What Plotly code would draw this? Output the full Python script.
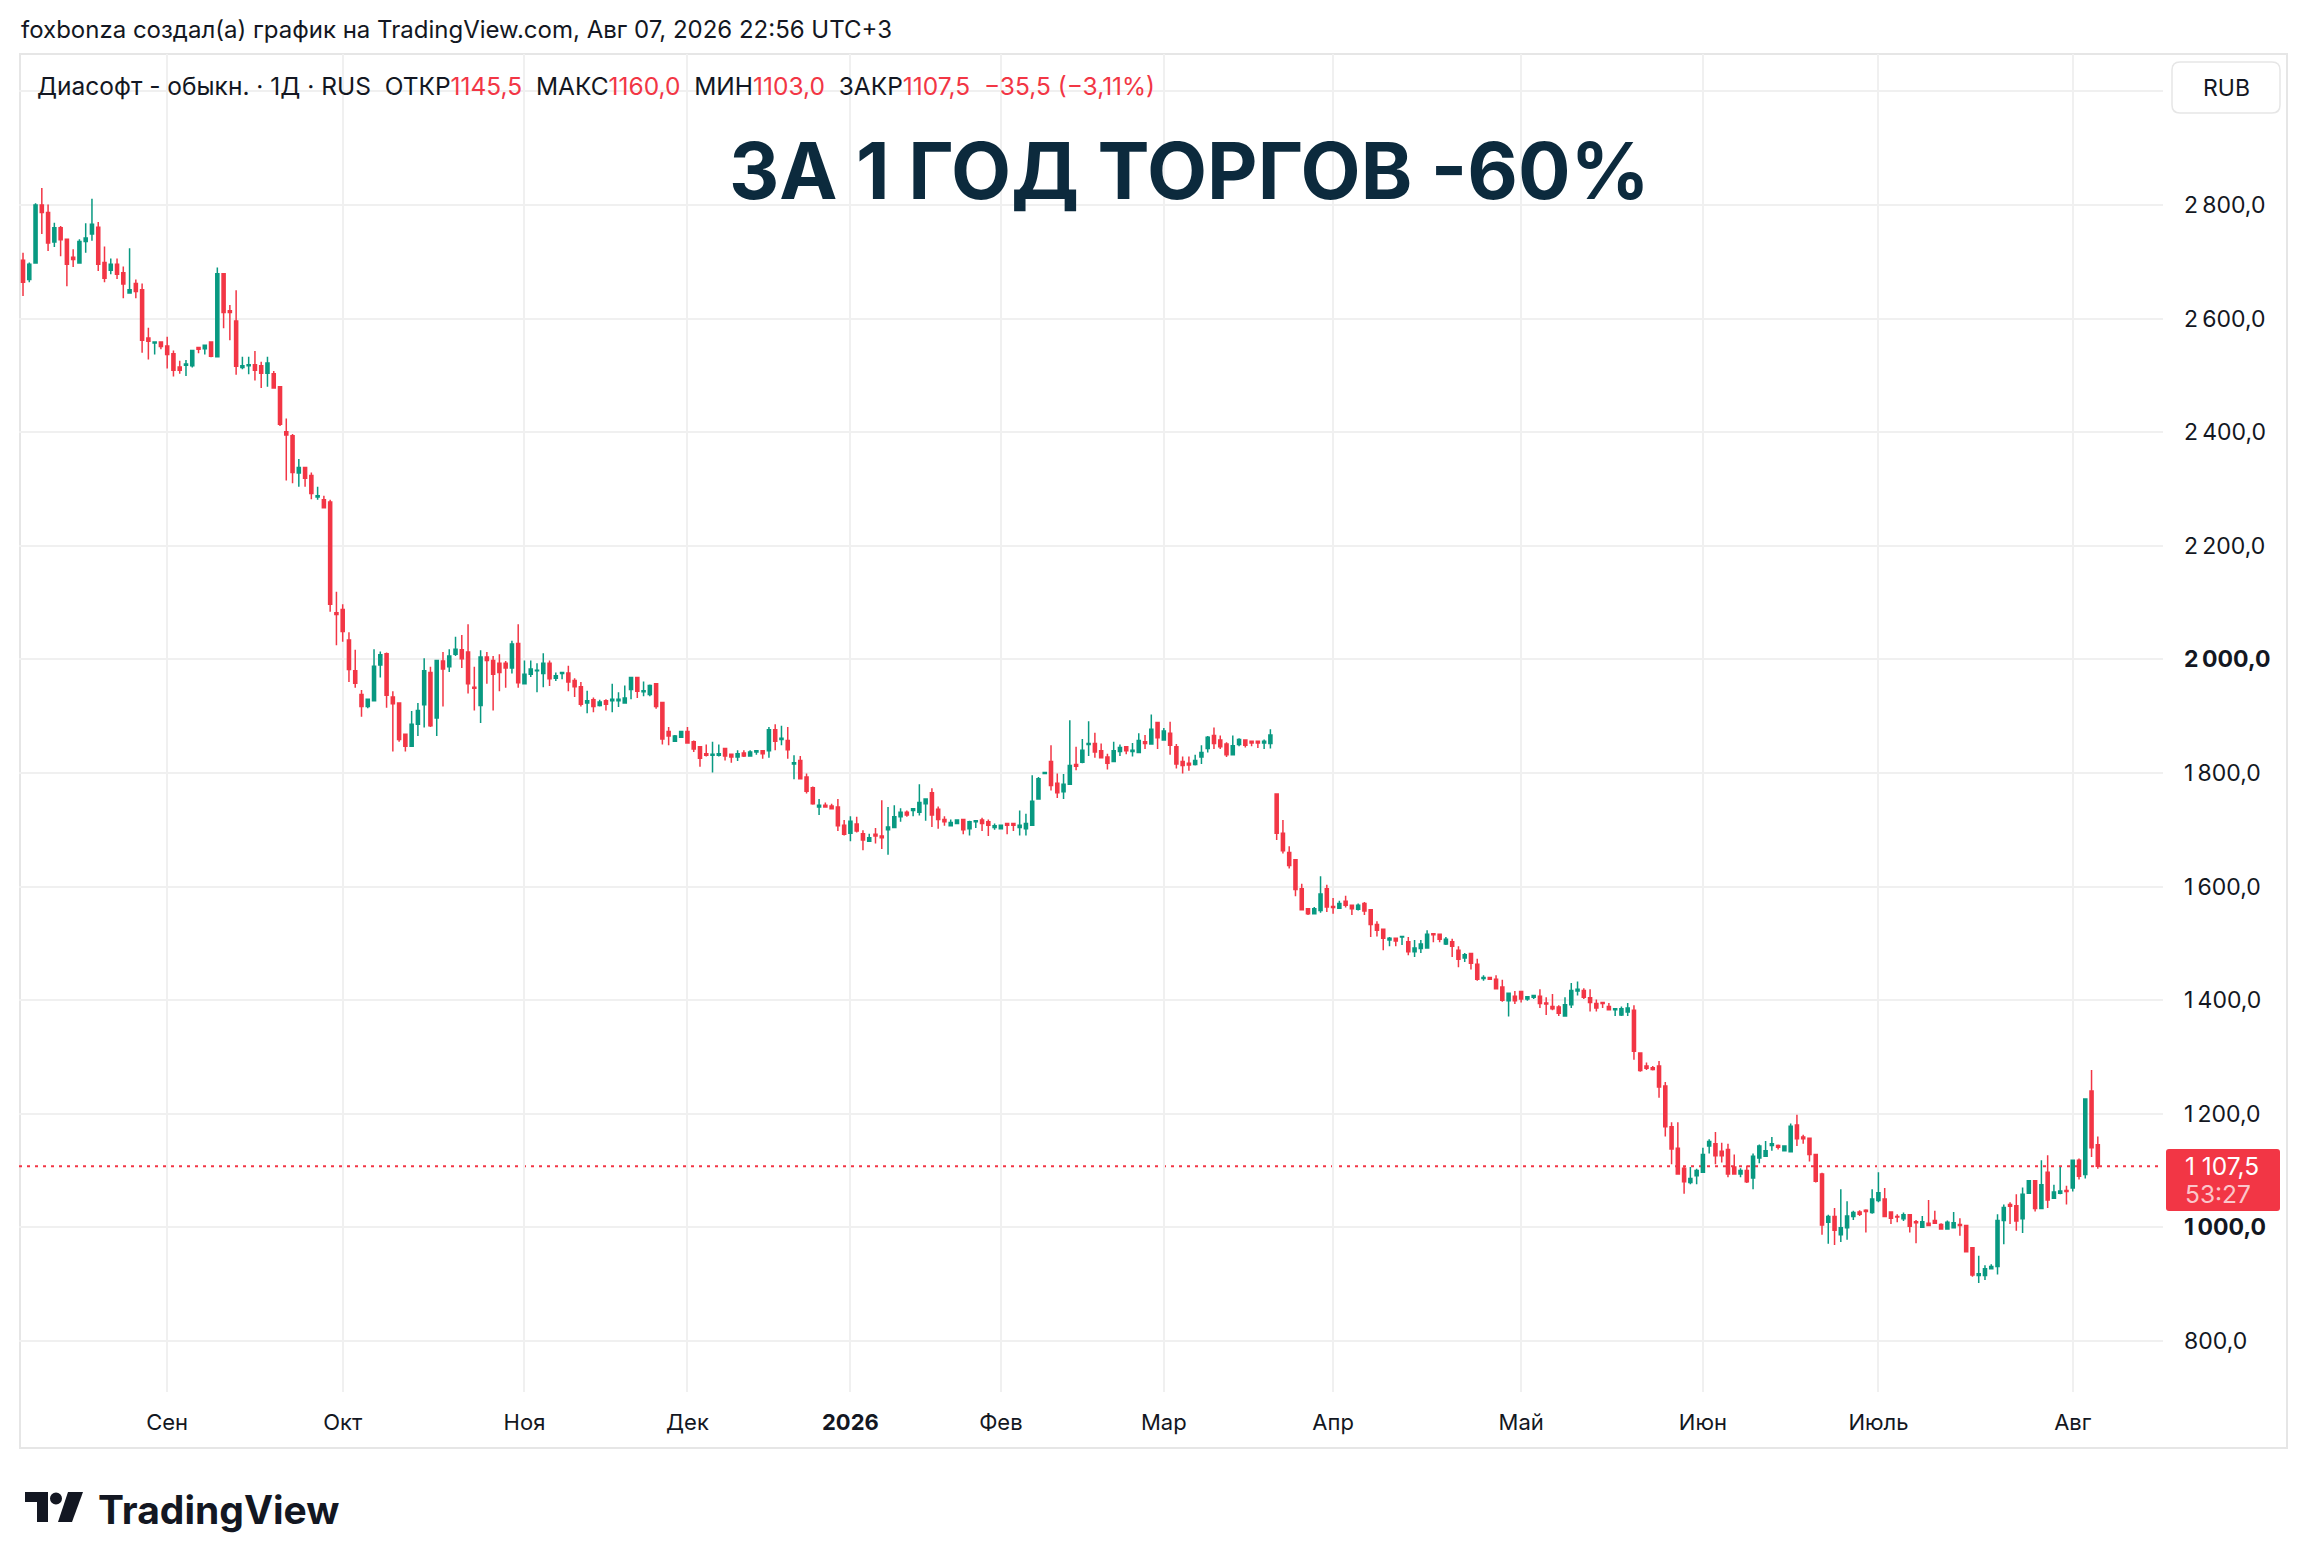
import pandas as pd
import plotly.graph_objects as go

# trading calendar: every day (MOEX trades weekends too) minus the closed days
FIRST_DAY = "2025-08-09"
LAST_DAY = "2026-08-07"
CLOSED_DAYS = [
    "2025-09-07", "2025-09-21",
    "2025-10-05", "2025-10-19",
    "2025-11-02", "2025-11-04", "2025-11-16", "2025-11-30",
    "2025-12-07", "2025-12-14", "2025-12-21", "2025-12-28", "2025-12-31",
    "2026-01-01", "2026-01-02", "2026-01-03", "2026-01-04", "2026-01-07", "2026-01-11", "2026-01-25",
    "2026-02-15", "2026-02-23",
    "2026-03-08", "2026-03-09", "2026-03-22", "2026-03-29",
    "2026-05-01", "2026-05-09",
    "2026-06-12", "2026-06-21",
    "2026-08-01", "2026-08-02",
]

MONTH_LABELS = ["Сен", "Окт", "Ноя", "Дек", "<b>2026</b>", "Фев", "Мар",
                "Апр", "Май", "Июн", "Июль", "Авг"]

PRICE_TICKS = [800, 1000, 1200, 1400, 1600, 1800, 2000, 2200, 2400, 2600, 2800, 3000]
PRICE_LABELS = ["800,0", "<b>1\u2009000,0</b>", "1\u2009200,0", "1\u2009400,0", "1\u2009600,0",
                "1\u2009800,0", "<b>2\u2009000,0</b>", "2\u2009200,0", "2\u2009400,0",
                "2\u2009600,0", "2\u2009800,0", ""]

OPEN = [
    2703, 2669, 2698, 2800, 2787, 2735, 2760, 2740, 2708, 2698,
    2736, 2749, 2761, 2699, 2685, 2696, 2681, 2645, 2662, 2651,
    2566, 2557, 2559, 2552, 2538, 2515, 2518, 2517, 2549, 2547,
    2559, 2533, 2679, 2614, 2596, 2514, 2517, 2519, 2517, 2504,
    2503, 2480, 2401, 2394, 2328, 2338, 2324, 2286, 2281, 2277,
    2082, 2088, 2034, 1980, 1938, 1917, 1927, 1990, 2010, 1934,
    1923, 1868, 1847, 1886, 1920, 1977, 1897, 1997, 1987, 2009,
    2017, 2013, 1951, 1919, 2004, 1998, 1993, 1993, 1985, 2028,
    1957, 1974, 1980, 1975, 1993, 1967, 1975, 1976, 1963, 1952,
    1923, 1929, 1919, 1927, 1927, 1927, 1923, 1947, 1968, 1943,
    1938, 1957, 1924, 1873, 1856, 1863, 1873, 1855, 1846, 1834,
    1831, 1831, 1843, 1833, 1828, 1835, 1830, 1837, 1839, 1839,
    1876, 1859, 1857, 1816, 1822, 1793, 1774, 1740, 1743, 1742,
    1740, 1708, 1694, 1710, 1693, 1680, 1692, 1689, 1700, 1704,
    1723, 1731, 1734, 1731, 1746, 1765, 1736, 1718, 1707, 1711,
    1718, 1702, 1714, 1717, 1714, 1704, 1702, 1711, 1711, 1704,
    1702, 1708, 1754, 1799, 1820, 1782, 1767, 1780, 1815, 1819,
    1850, 1852, 1839, 1828, 1820, 1838, 1846, 1838, 1836, 1855,
    1851, 1889, 1858, 1870, 1846, 1820, 1817, 1815, 1828, 1843,
    1866, 1858, 1851, 1832, 1850, 1858, 1856, 1856, 1853, 1852,
    1763, 1694, 1660, 1647, 1596, 1561, 1552, 1558, 1596, 1565,
    1562, 1574, 1567, 1560, 1570, 1559, 1533, 1525, 1506, 1509,
    1511, 1503, 1485, 1491, 1492, 1517, 1516, 1499, 1503, 1488,
    1474, 1482, 1463, 1438, 1440, 1437, 1423, 1399, 1407, 1415,
    1402, 1405, 1407, 1395, 1389, 1388, 1372, 1392, 1416, 1417,
    1404, 1394, 1396, 1389, 1383, 1374, 1379, 1382, 1307, 1284,
    1281, 1284, 1249, 1177, 1139, 1104, 1079, 1091, 1097, 1143,
    1147, 1134, 1137, 1106, 1094, 1100, 1087, 1122, 1125, 1144,
    1144, 1135, 1133, 1180, 1159, 1157, 1128, 1094, 1009, 1019,
    987, 999, 1019, 1027, 1030, 1026, 1047, 1050, 1027, 1019,
    1015, 1022, 1010, 1000, 1007, 1012, 1005, 997, 999, 1005,
    1003, 964, 915, 915, 927, 931, 1012, 1040, 1038, 1015,
    1060, 1082, 1033, 1097, 1051, 1060, 1065, 1069, 1118, 1093, 1240, 1145.5,
]
HIGH = [
    2716, 2699, 2803, 2830, 2801, 2769, 2763, 2740, 2722, 2740,
    2768, 2811, 2770, 2727, 2706, 2706, 2692, 2724, 2669, 2662,
    2584, 2559, 2559, 2568, 2544, 2526, 2527, 2544, 2549, 2553,
    2559, 2690, 2679, 2624, 2650, 2533, 2533, 2543, 2524, 2533,
    2508, 2481, 2424, 2397, 2353, 2339, 2329, 2304, 2288, 2281,
    2119, 2097, 2048, 2017, 1946, 1930, 2018, 2014, 2012, 1944,
    1923, 1868, 1909, 1923, 2002, 1987, 1998, 2013, 2018, 2040,
    2043, 2062, 1987, 2016, 2013, 2006, 2009, 1997, 2033, 2062,
    1998, 1998, 1993, 2011, 1998, 1977, 1977, 1989, 1967, 1960,
    1945, 1933, 1929, 1930, 1957, 1942, 1954, 1968, 1968, 1961,
    1956, 1957, 1924, 1881, 1867, 1873, 1881, 1857, 1846, 1850,
    1855, 1850, 1843, 1833, 1840, 1840, 1840, 1839, 1839, 1881,
    1886, 1883, 1881, 1831, 1830, 1799, 1776, 1754, 1748, 1746,
    1754, 1717, 1724, 1723, 1699, 1693, 1703, 1752, 1740, 1743,
    1738, 1734, 1737, 1780, 1754, 1773, 1741, 1724, 1718, 1717,
    1718, 1716, 1716, 1721, 1718, 1711, 1709, 1711, 1711, 1734,
    1728, 1796, 1793, 1801, 1849, 1799, 1798, 1893, 1846, 1860,
    1891, 1871, 1852, 1834, 1855, 1850, 1847, 1853, 1870, 1867,
    1903, 1889, 1879, 1890, 1851, 1829, 1829, 1832, 1849, 1865,
    1880, 1866, 1854, 1866, 1861, 1858, 1857, 1856, 1859, 1877,
    1763, 1717, 1671, 1647, 1605, 1561, 1564, 1618, 1603, 1580,
    1575, 1584, 1567, 1570, 1573, 1559, 1539, 1525, 1511, 1509,
    1512, 1511, 1506, 1506, 1523, 1517, 1516, 1511, 1508, 1495,
    1483, 1482, 1473, 1444, 1441, 1444, 1436, 1412, 1416, 1415,
    1407, 1408, 1419, 1405, 1411, 1391, 1405, 1430, 1433, 1421,
    1419, 1401, 1396, 1395, 1386, 1389, 1395, 1391, 1307, 1290,
    1284, 1293, 1256, 1185, 1185, 1107, 1106, 1103, 1140, 1155,
    1168, 1149, 1147, 1128, 1104, 1109, 1130, 1146, 1152, 1159,
    1146, 1143, 1183, 1198, 1163, 1157, 1128, 1096, 1022, 1034,
    1067, 1046, 1029, 1030, 1032, 1067, 1097, 1069, 1027, 1023,
    1026, 1023, 1013, 1020, 1048, 1029, 1007, 1012, 1027, 1016,
    1003, 964, 950, 933, 935, 1023, 1040, 1044, 1058, 1070,
    1082, 1083, 1118, 1127, 1075, 1106, 1073, 1118, 1121, 1226, 1277, 1160,
]
LOW = [
    2640, 2664, 2698, 2749, 2719, 2726, 2710, 2657, 2691, 2698,
    2716, 2737, 2684, 2664, 2678, 2670, 2636, 2645, 2636, 2540,
    2528, 2537, 2546, 2512, 2498, 2503, 2499, 2514, 2539, 2537,
    2532, 2533, 2583, 2562, 2501, 2511, 2502, 2491, 2478, 2480,
    2478, 2411, 2315, 2310, 2304, 2304, 2282, 2281, 2267, 2084,
    2025, 2031, 1960, 1950, 1899, 1914, 1927, 1968, 1915, 1838,
    1855, 1838, 1847, 1865, 1880, 1881, 1865, 1917, 1978, 2006,
    1985, 1940, 1910, 1888, 1957, 1910, 1944, 1950, 1975, 1950,
    1956, 1969, 1942, 1951, 1953, 1962, 1965, 1944, 1934, 1917,
    1905, 1907, 1917, 1910, 1907, 1916, 1923, 1930, 1932, 1935,
    1935, 1913, 1850, 1849, 1856, 1863, 1852, 1837, 1811, 1829,
    1801, 1829, 1822, 1818, 1821, 1828, 1830, 1832, 1825, 1827,
    1840, 1849, 1825, 1789, 1789, 1764, 1744, 1726, 1740, 1736,
    1698, 1690, 1680, 1695, 1664, 1679, 1676, 1666, 1656, 1704,
    1714, 1723, 1724, 1725, 1716, 1705, 1702, 1707, 1707, 1710,
    1692, 1690, 1703, 1698, 1689, 1700, 1701, 1692, 1698, 1690,
    1690, 1708, 1754, 1799, 1769, 1756, 1754, 1780, 1805, 1817,
    1830, 1827, 1827, 1806, 1820, 1830, 1833, 1829, 1836, 1842,
    1851, 1842, 1857, 1832, 1808, 1799, 1804, 1813, 1816, 1836,
    1842, 1842, 1828, 1832, 1847, 1845, 1847, 1844, 1842, 1843,
    1682, 1658, 1632, 1583, 1559, 1550, 1552, 1554, 1555, 1552,
    1561, 1563, 1550, 1558, 1550, 1511, 1512, 1488, 1495, 1495,
    1497, 1479, 1476, 1483, 1492, 1502, 1502, 1497, 1476, 1458,
    1467, 1454, 1434, 1434, 1436, 1420, 1397, 1371, 1393, 1396,
    1399, 1402, 1386, 1374, 1382, 1372, 1372, 1386, 1408, 1402,
    1380, 1380, 1386, 1382, 1372, 1372, 1372, 1295, 1274, 1277,
    1276, 1228, 1160, 1111, 1094, 1059, 1076, 1076, 1096, 1130,
    1111, 1114, 1088, 1093, 1088, 1078, 1067, 1113, 1125, 1135,
    1137, 1134, 1133, 1143, 1147, 1116, 1079, 987, 971, 969,
    974, 978, 1013, 1020, 991, 1024, 1044, 1019, 1006, 1009,
    1011, 991, 972, 1000, 1002, 1006, 997, 997, 999, 985,
    956, 913, 902, 907, 927, 917, 970, 1006, 994, 990,
    1060, 1028, 1033, 1034, 1051, 1058, 1040, 1063, 1084, 1086, 1124, 1103,
]
CLOSE = [
    2664, 2696, 2800, 2787, 2733, 2760, 2739, 2696, 2704, 2736,
    2742, 2766, 2696, 2671, 2696, 2678, 2661, 2651, 2648, 2562,
    2560, 2559, 2551, 2537, 2509, 2509, 2520, 2544, 2546, 2553,
    2534, 2679, 2611, 2611, 2516, 2517, 2519, 2509, 2504, 2522,
    2478, 2414, 2395, 2329, 2338, 2319, 2292, 2288, 2267, 2097,
    2079, 2049, 1982, 1958, 1917, 1930, 1988, 2008, 1937, 1922,
    1859, 1847, 1886, 1910, 1980, 1883, 1998, 1983, 2006, 2018,
    2001, 1957, 1949, 2004, 1998, 1974, 1977, 1985, 2027, 1959,
    1974, 1983, 1981, 1993, 1966, 1971, 1977, 1960, 1952, 1921,
    1927, 1917, 1925, 1921, 1930, 1930, 1932, 1968, 1944, 1945,
    1954, 1917, 1860, 1865, 1865, 1873, 1853, 1842, 1826, 1831,
    1833, 1834, 1830, 1828, 1834, 1830, 1837, 1839, 1834, 1876,
    1856, 1861, 1841, 1818, 1790, 1768, 1746, 1743, 1740, 1737,
    1707, 1692, 1715, 1698, 1682, 1686, 1689, 1686, 1705, 1723,
    1731, 1726, 1737, 1748, 1754, 1726, 1718, 1714, 1713, 1717,
    1700, 1714, 1716, 1711, 1708, 1707, 1708, 1708, 1708, 1708,
    1711, 1750, 1790, 1801, 1778, 1765, 1780, 1813, 1812, 1840,
    1852, 1837, 1827, 1817, 1839, 1845, 1839, 1840, 1857, 1852,
    1877, 1862, 1874, 1849, 1816, 1813, 1814, 1822, 1836, 1863,
    1852, 1846, 1832, 1848, 1859, 1849, 1853, 1853, 1856, 1867,
    1694, 1663, 1637, 1595, 1559, 1552, 1561, 1587, 1564, 1563,
    1570, 1567, 1561, 1567, 1557, 1533, 1523, 1509, 1509, 1504,
    1512, 1485, 1492, 1499, 1516, 1515, 1507, 1507, 1495, 1472,
    1480, 1465, 1437, 1440, 1437, 1420, 1400, 1412, 1399, 1402,
    1406, 1408, 1394, 1393, 1385, 1377, 1392, 1417, 1419, 1405,
    1396, 1386, 1394, 1383, 1385, 1385, 1386, 1310, 1276, 1280,
    1278, 1247, 1177, 1138, 1094, 1080, 1086, 1100, 1128, 1151,
    1126, 1126, 1094, 1094, 1100, 1080, 1125, 1143, 1135, 1147,
    1141, 1143, 1178, 1156, 1156, 1128, 1081, 1004, 1019, 995,
    999, 1020, 1026, 1023, 1028, 1050, 1061, 1019, 1016, 1018,
    1022, 1002, 1008, 1010, 1003, 1007, 997, 1009, 1008, 1003,
    957, 916, 918, 927, 931, 1012, 1035, 1037, 1011, 1058,
    1082, 1033, 1075, 1048, 1062, 1064, 1063, 1118, 1090, 1226, 1140, 1107.5,
]

LAST_PRICE = 1107.5

GREEN = "#089981"
RED = "#F23645"
TEXT = "#131722"
GRID = "#f0f0f0"
FRAME = "#e6e6e6"

W, H = 2308, 1568
PLOT_L, PLOT_R, PLOT_T, PLOT_B = 19, 2163, 54, 1392


def px(x):
    return (x - PLOT_L) / (PLOT_R - PLOT_L)


def py(y):
    return (PLOT_B - y) / (PLOT_B - PLOT_T)


def trading_days():
    days = pd.date_range(FIRST_DAY, LAST_DAY, freq="D")
    days = days[~days.isin(pd.to_datetime(CLOSED_DAYS))]
    return days


def month_ticks(days):
    firsts = days.to_series().groupby(days.to_period("M")).first().iloc[1:]
    return [d.strftime("%Y-%m-%d") for d in firsts]


def rounded_rect(x0, y0, x1, y1, r):
    # pixel box -> paper path with quadratic corners
    pts = [
        f"M{px(x0 + r)},{py(y0)}", f"L{px(x1 - r)},{py(y0)}",
        f"Q{px(x1)},{py(y0)} {px(x1)},{py(y0 + r)}", f"L{px(x1)},{py(y1 - r)}",
        f"Q{px(x1)},{py(y1)} {px(x1 - r)},{py(y1)}", f"L{px(x0 + r)},{py(y1)}",
        f"Q{px(x0)},{py(y1)} {px(x0)},{py(y1 - r)}", f"L{px(x0)},{py(y0 + r)}",
        f"Q{px(x0)},{py(y0)} {px(x0 + r)},{py(y0)}", "Z",
    ]
    return " ".join(pts)


def poly(points):
    return "M" + " L".join(f"{px(x)},{py(y)}" for x, y in points) + " Z"


def text_note(x, y, text, size, color=TEXT, anchor="left"):
    return dict(x=px(x), y=py(y), xref="paper", yref="paper", text=text,
                showarrow=False, xanchor=anchor, yanchor="middle",
                font=dict(size=size, color=color, family="Inter"))


def build_figure():
    days = trading_days()
    x = days.strftime("%Y-%m-%d").tolist()
    print("bars:", len(x), len(OPEN), len(HIGH), len(LOW), len(CLOSE))

    fig = go.Figure(go.Candlestick(
        x=x, open=OPEN, high=HIGH, low=LOW, close=CLOSE,
        increasing=dict(line=dict(color=GREEN, width=1.5), fillcolor=GREEN),
        decreasing=dict(line=dict(color=RED, width=1.5), fillcolor=RED),
        hoverinfo="skip",
    ))

    n = len(x)
    fig.update_xaxes(
        type="category", range=[-0.64, n - 1 + 10.4],
        tickvals=month_ticks(days), ticktext=MONTH_LABELS,
        showgrid=True, gridcolor=GRID, gridwidth=1.5,
        tickfont=dict(size=22, color=TEXT, family="Inter"),
        ticklabelstandoff=15, showline=False, zeroline=False,
        rangeslider=dict(visible=False), fixedrange=True,
    )
    fig.update_yaxes(
        side="right", range=[710, 3066],
        tickvals=PRICE_TICKS, ticktext=PRICE_LABELS,
        showgrid=True, gridcolor=GRID, gridwidth=1.5,
        tickfont=dict(size=23, color=TEXT, family="Inter"),
        ticklabelstandoff=20, showline=False, zeroline=False, fixedrange=True,
    )

    legend = ("Диасофт - обыкн. · 1Д · RUS\u00a0\u00a0"
              f"ОТКР<span style='color:{RED}'>1145,5</span>\u00a0\u00a0"
              f"МАКС<span style='color:{RED}'>1160,0</span>\u00a0\u00a0"
              f"МИН<span style='color:{RED}'>1103,0</span>\u00a0\u00a0"
              f"ЗАКР<span style='color:{RED}'>1107,5</span>\u00a0\u00a0"
              f"<span style='color:{RED}'>\u221235,5 (\u22123,11%)</span>")

    notes = [
        text_note(19, 30, "foxbonza создал(а) график на TradingView.com, Авг 07, 2026 22:56 UTC+3", 24),
        text_note(35, 86, legend, 24.5),
        text_note(1189, 170, "<b>ЗА 1 ГОД ТОРГОВ -60%</b>", 78, color="#0c2a3d", anchor="center"),
        text_note(2226, 88, "RUB", 23, anchor="center"),
        text_note(2183, 1166, "1 107,5", 24.5, color="white"),
        text_note(2183, 1194, "53:27", 24.5, color="rgba(255,255,255,0.72)"),
        text_note(96, 1509, "<b>TradingView</b>", 39),
    ]

    shapes = [
        # outer frame
        dict(type="rect", xref="paper", yref="paper",
             x0=px(20), x1=px(2287), y0=py(1448), y1=py(54),
             line=dict(color=FRAME, width=2), fillcolor="rgba(0,0,0,0)", layer="below"),
        # last price line
        dict(type="line", xref="paper", yref="y", x0=0, x1=1,
             y0=LAST_PRICE, y1=LAST_PRICE, layer="between",
             line=dict(color=RED, width=2, dash="3px,5px")),
        # last price label
        dict(type="path", xref="paper", yref="paper",
             path=rounded_rect(2166, 1149, 2280, 1211, 3),
             fillcolor=RED, line=dict(width=0)),
        # currency box
        dict(type="path", xref="paper", yref="paper",
             path=rounded_rect(2172, 62, 2280, 113, 8),
             fillcolor="white", line=dict(color=FRAME, width=1.5)),
        # TradingView mark
        dict(type="path", xref="paper", yref="paper",
             path=poly([(25, 1492), (48, 1492), (48, 1522), (37, 1522), (37, 1502), (25, 1502)]),
             fillcolor=TEXT, line=dict(width=0)),
        dict(type="circle", xref="paper", yref="paper",
             x0=px(50), x1=px(62), y0=py(1504.5), y1=py(1492.5),
             fillcolor=TEXT, line=dict(width=0)),
        dict(type="path", xref="paper", yref="paper",
             path=poly([(68, 1492), (83, 1492), (72, 1522), (58, 1522)]),
             fillcolor=TEXT, line=dict(width=0)),
    ]

    fig.update_layout(
        width=W, height=H, autosize=False,
        margin=dict(l=PLOT_L, r=W - PLOT_R, t=PLOT_T, b=H - PLOT_B, pad=0),
        paper_bgcolor="white", plot_bgcolor="white",
        font=dict(family="Inter", color=TEXT),
        showlegend=False,
        annotations=notes, shapes=shapes,
    )
    return fig


def main():
    fig = build_figure()
    fig.write_html("out.html", config={"displayModeBar": False},
                   post_script="document.body.style.margin='0';document.body.style.overflow='hidden';")


if __name__ == "__main__":
    main()
